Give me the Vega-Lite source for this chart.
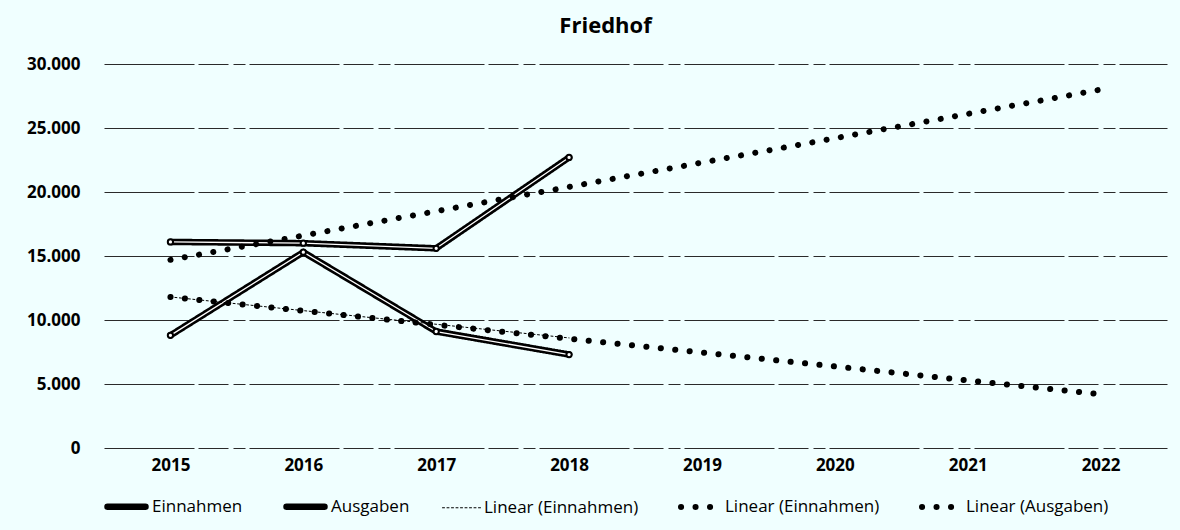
{
  "$schema": "https://vega.github.io/schema/vega-lite/v6.json",
  "width": 1063,
  "height": 384,
  "autosize": {"type": "none"},
  "padding": {"left": 104, "top": 64, "right": 13, "bottom": 82},
  "background": "#f0ffff",
  "title": {"text": "Friedhof", "fontSize": 22, "font": "Open Sans", "fontWeight": "bold", "color": "#000000", "offset": 17, "dx": -30},
  "config": {"view": {"stroke": null}, "font": "Open Sans"},
  "data": {"values": [
    {"series": "Einnahmen", "kind": "main", "year": "2015", "value": 8800},
    {"series": "Einnahmen", "kind": "main", "year": "2016", "value": 15300},
    {"series": "Einnahmen", "kind": "main", "year": "2017", "value": 9100},
    {"series": "Einnahmen", "kind": "main", "year": "2018", "value": 7300},
    {"series": "Ausgaben", "kind": "main", "year": "2015", "value": 16100},
    {"series": "Ausgaben", "kind": "main", "year": "2016", "value": 16000},
    {"series": "Ausgaben", "kind": "main", "year": "2017", "value": 15600},
    {"series": "Ausgaben", "kind": "main", "year": "2018", "value": 22700},
    {"series": "Linear (Einnahmen)", "kind": "trend", "year": "2015", "value": 11800},
    {"series": "Linear (Einnahmen)", "kind": "trend", "year": "2018", "value": 8600},
    {"series": "Linear (Einnahmen) ", "kind": "trend", "year": "2015", "value": 11800},
    {"series": "Linear (Einnahmen) ", "kind": "trend", "year": "2022", "value": 4200},
    {"series": "Linear (Ausgaben)", "kind": "trend", "year": "2015", "value": 14700},
    {"series": "Linear (Ausgaben)", "kind": "trend", "year": "2022", "value": 28000}
  ]},
  "encoding": {
    "x": {
      "field": "year", "type": "ordinal",
      "scale": {"domain": ["2015", "2016", "2017", "2018", "2019", "2020", "2021", "2022"]},
      "axis": {"title": null, "labelAngle": 0, "domain": false, "ticks": false, "grid": false, "labelFontSize": 17, "labelFontWeight": "bold", "labelColor": "#000000", "labelPadding": 9}
    },
    "y": {
      "field": "value", "type": "quantitative",
      "scale": {"domain": [0, 30000], "nice": false},
      "axis": {"title": null, "values": [0, 5000, 10000, 15000, 20000, 25000, 30000], "labelExpr": "replace(format(datum.value, ','), ',', '.')", "domain": false, "ticks": false, "labelFontSize": 17, "labelFontWeight": "bold", "labelColor": "#000000", "labelPadding": 24, "gridColor": "#2a2a2a", "gridWidth": 1.2, "gridDash": [90, 4, 30, 5, 12, 4]}
    }
  },
  "layer": [
    {
      "transform": [{"filter": "datum.kind === 'main'"}],
      "mark": {"type": "line", "strokeCap": "round", "strokeJoin": "round"},
      "encoding": {
        "color": {"field": "series", "type": "nominal",
          "scale": {"domain": ["Einnahmen", "Ausgaben", "Linear (Einnahmen)", "Linear (Einnahmen) ", "Linear (Ausgaben)"], "range": ["#000000", "#000000", "#000000", "#000000", "#000000"]},
          "legend": {"title": null, "orient": "none", "direction": "horizontal", "legendX": 0, "legendY": 420, "symbolType": "stroke", "symbolSize": 1444, "labelFontSize": 17, "labelColor": "#000000", "labelOffset": 3, "columnPadding": 30, "labelExpr": "trim(datum.label)", "encode": {"symbols": {"update": {"strokeCap": {"value": "round"}}}}}},
        "strokeDash": {"field": "series", "type": "nominal",
          "scale": {"domain": ["Einnahmen", "Ausgaben", "Linear (Einnahmen)", "Linear (Einnahmen) ", "Linear (Ausgaben)"], "range": [[1, 0], [1, 0], [2, 2.5], [0.1, 14.4], [0.1, 14.4]]},
          "legend": {"title": null}},
        "strokeWidth": {"field": "series", "type": "nominal",
          "scale": {"type": "ordinal", "domain": ["Einnahmen", "Ausgaben", "Linear (Einnahmen)", "Linear (Einnahmen) ", "Linear (Ausgaben)"], "range": [6.5, 6.5, 1, 6, 6]},
          "legend": {"title": null}}
      }
    },
    {
      "transform": [{"filter": "datum.kind === 'main'"}],
      "mark": {"type": "line", "color": "#ffffff", "strokeWidth": 1.3, "strokeJoin": "round"},
      "encoding": {"detail": {"field": "series", "type": "nominal"}}
    },
    {
      "transform": [{"filter": "datum.kind === 'main'"}],
      "mark": {"type": "point", "shape": "circle", "filled": true, "fill": "#ffffff", "stroke": "#000000", "strokeWidth": 2, "size": 28, "opacity": 1},
      "encoding": {"detail": {"field": "series", "type": "nominal"}}
    },
    {
      "transform": [{"filter": "datum.kind === 'trend'"}],
      "mark": {"type": "line", "strokeCap": "round"},
      "encoding": {
        "color": {"field": "series", "type": "nominal",
          "scale": {"domain": ["Einnahmen", "Ausgaben", "Linear (Einnahmen)", "Linear (Einnahmen) ", "Linear (Ausgaben)"], "range": ["#000000", "#000000", "#000000", "#000000", "#000000"]}},
        "strokeDash": {"field": "series", "type": "nominal",
          "scale": {"domain": ["Einnahmen", "Ausgaben", "Linear (Einnahmen)", "Linear (Einnahmen) ", "Linear (Ausgaben)"], "range": [[1, 0], [1, 0], [2, 2.5], [0.1, 14.4], [0.1, 14.4]]}},
        "strokeWidth": {"field": "series", "type": "nominal",
          "scale": {"type": "ordinal", "domain": ["Einnahmen", "Ausgaben", "Linear (Einnahmen)", "Linear (Einnahmen) ", "Linear (Ausgaben)"], "range": [6.5, 6.5, 1, 6, 6]}}
      }
    }
  ]
}
